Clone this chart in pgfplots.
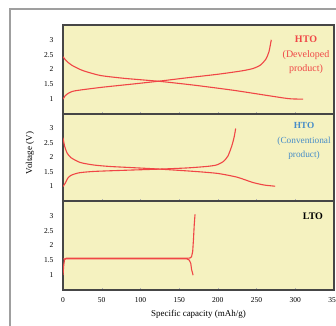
\documentclass[border=0pt]{standalone}
\usepackage{pgfplots}
\pgfplotsset{compat=1.18}
\usepackage{fontspec}
\setmainfont{Liberation Serif}
\definecolor{bgy}{RGB}{245,242,192}
\definecolor{crv}{RGB}{240,70,70}
\definecolor{bord}{RGB}{70,70,70}
\definecolor{htoblue}{RGB}{70,140,200}
\pgfplotsset{
  panel/.style={
    scale only axis, width=271pt,
    xmin=0, xmax=350, ymin=0.5, ymax=3.5,
    axis background/.style={fill=bgy},
    axis line style={draw=bord, line width=1.6pt},
    ytick={1,1.5,2,2.5,3},
    yticklabels={1,1.5,2,2.5,3},
    xtick={0,50,...,350},
    tick style={draw=gray!60, line width=0.4pt},
    major tick length=2pt,
    ytick style={draw=none},
    tick align=inside,
    xtick pos=bottom, ytick pos=left,
    tick label style={font=\fontsize{7.5}{8}\selectfont},
    /pgf/number format/assume math mode=true,
    yticklabel style={xshift=-6pt},
    xticklabel style={yshift=-4pt},
    clip=true,
  },
  crvstyle/.style={color=crv, line width=1.1pt, smooth, tension=0.4, no marks}
}
\begin{document}
\begin{tikzpicture}
\useasboundingbox (0pt,0pt) rectangle (336pt,325pt);
\draw[gray!75, line width=1.3pt] (10pt,-10pt) -- (10pt,316pt) -- (350pt,316pt);
% top panel
\begin{axis}[panel, at={(63pt,211pt)}, anchor=south west, height=89pt, xticklabels={}]
\addplot[crvstyle] coordinates {(0,1.0) (3,1.12) (7,1.2) (12,1.26) (20,1.3) (50,1.4) (90,1.51) (125,1.61) (160,1.72) (200,1.84) (230,1.95) (245,2.03) (255,2.15) (262,2.35) (266,2.6) (269,3.0)};
\addplot[crvstyle] coordinates {(0,2.43) (4,2.3) (11,2.15) (25,1.97) (48,1.8) (80,1.7) (125,1.6) (170,1.47) (220,1.3) (260,1.14) (285,1.04) (295,1.01) (310,1.0)};
\end{axis}
% middle panel
\begin{axis}[panel, at={(63pt,124pt)}, anchor=south west, height=87pt, xticklabels={}]
\addplot[crvstyle] coordinates {(0,1.0) (3,1.12) (6,1.28) (10,1.38) (20,1.47) (40,1.52) (80,1.56) (125,1.6) (160,1.64) (185,1.69) (198,1.74) (207,1.86) (213,2.05) (218,2.4) (221,2.7) (223,3.0)};
\addplot[crvstyle] coordinates {(0,2.68) (2,2.4) (5,2.17) (10,2.0) (22,1.83) (40,1.74) (61,1.69) (90,1.65) (125,1.6) (170,1.52) (200,1.45) (225,1.32) (245,1.14) (260,1.05) (274,1.01)};
\end{axis}
% bottom panel
\begin{axis}[panel, at={(63pt,35pt)}, anchor=south west, height=89pt,
  xlabel={Specific capacity (mAh/g)},
  xlabel style={font=\fontsize{9}{10}\selectfont, yshift=-1pt}]
\addplot[color=crv, line width=1.1pt, no marks] coordinates {(0,1.0) (1,1.35) (2,1.52) (4,1.57) (100,1.57) (160,1.57) (164,1.58) (166,1.62) (167.5,1.8) (168.5,2.2) (169.5,2.7) (170.5,3.05)};
\addplot[color=crv, line width=1.1pt, no marks] coordinates {(0,1.55) (160,1.55) (163,1.51) (165,1.4) (166,1.2) (168,1.0)};
\end{axis}
% annotations
\node[text=crv, font=\fontsize{10}{14.5}\selectfont, align=center] at (306pt,270pt) {\textbf{HTO}\\(Developed\\product)};
\node[text=htoblue, font=\fontsize{9.3}{14.5}\selectfont, align=center] at (304pt,184pt) {\textbf{HTO}\\(Conventional\\product)};
\node[font=\fontsize{10}{11}\selectfont\bfseries] at (313pt,109pt) {LTO};
\node[rotate=90, font=\fontsize{9}{10}\selectfont] at (30pt,172pt) {Voltage (V)};
\end{tikzpicture}
\end{document}
